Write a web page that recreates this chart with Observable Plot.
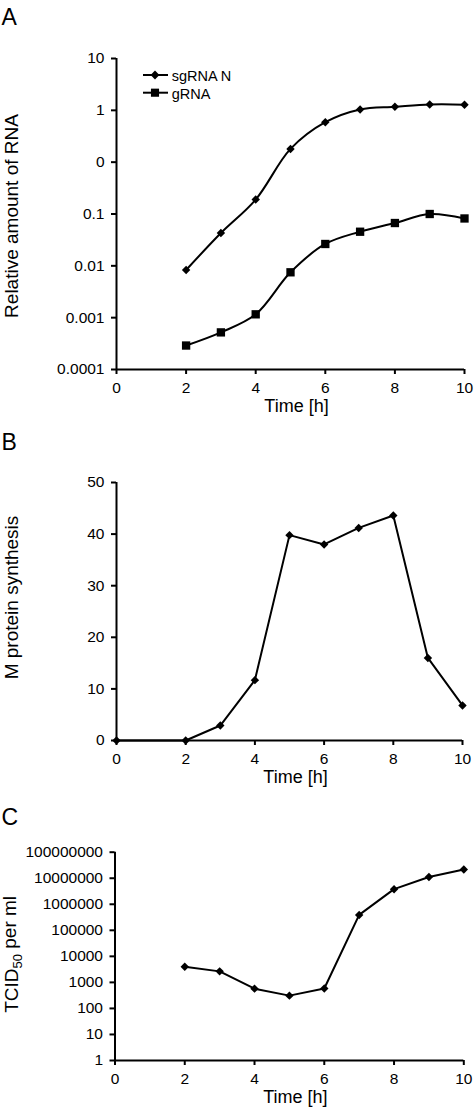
<!DOCTYPE html>
<html>
<head>
<meta charset="utf-8">
<script src="https://cdn.jsdelivr.net/npm/d3@7"></script>
<script src="https://cdn.jsdelivr.net/npm/@observablehq/plot@0.6"></script>
<style>
  html, body { margin: 0; padding: 0; background: white; overflow: hidden; }
  #wrap { width: 475px; font-family: "Liberation Sans", Arial, sans-serif; }
  .panel { position: relative; width: 475px; }
  .panel svg { display: block; max-width: none !important; }
  .panel svg [aria-label$="tick"] { stroke-width: 2px; }
  .panel svg [aria-label$="tick label"] { font-size: 15.5px; }
  #legend { position: absolute; left: 140px; top: 65px; }
</style>
</head>
<body>
<div id="wrap">
  <div class="panel" id="pA"></div>
  <div class="panel" id="pB"></div>
  <div class="panel" id="pC"></div>
</div>
<script>
// ---------- data ----------
const xTicks = [0, 2, 4, 6, 8, 10];

// Panel A (log axis; labels as printed on the original)
const hoursA = [2, 3, 4, 5, 6, 7, 8, 9, 10];
const sgRNA = [0.0083, 0.043, 0.19, 1.8, 5.9, 10.4, 11.7, 13.0, 12.8];
const gRNA = [0.00029, 0.00052, 0.00116, 0.0075, 0.0264, 0.0455, 0.067, 0.1, 0.082];
const ticksA = [0.0001, 0.001, 0.01, 0.1, 1, 10, 100];
const tickLabelsA = ["0.0001", "0.001", "0.01", "0.1", "0", "1", "10"];
const seriesA = ["sgRNA N", "gRNA"];

// Panel B
const hoursB = [0, 2, 3, 4, 5, 6, 7, 8, 9, 10];
const mProtein = [0, 0, 2.9, 11.7, 39.8, 38.0, 41.2, 43.6, 16.0, 6.8];
const ticksB = [0, 10, 20, 30, 40, 50];

// Panel C
const hoursC = [2, 3, 4, 5, 6, 7, 8, 9, 10];
const tcid = [4000, 2650, 575, 310, 580, 390000, 3800000, 11200000, 21500000];
const ticksC = [1, 10, 100, 1000, 10000, 100000, 1000000, 10000000, 100000000];

const titles = {
  x: "Time [h]",
  yA: "Relative amount of RNA",
  yB: "M protein synthesis",
  yC: "TCID50 per ml"
};
const letters = ["A", "B", "C"];

// ---------- helpers ----------
const FONT = "'Liberation Sans', Arial, sans-serif";
const baseStyle = {fontFamily: FONT, fontSize: "15.5px", color: "black", background: "white", overflow: "visible"};

function chrome(letter, marginLeft, marginTop, yTitle, yTitleDx, yTitleDy) {
  return [
    Plot.text([letter], {text: d => d, frameAnchor: "top-left", dx: -marginLeft + 1, dy: -marginTop + 8, textAnchor: "start", lineAnchor: "top", fontSize: 23, fill: "black"}),
    Plot.text([titles.x], {text: d => d, frameAnchor: "bottom", dx: 6, dy: 30, lineAnchor: "top", fontSize: 18, fill: "black"}),
    Plot.text([yTitle], {text: d => d, frameAnchor: "left", rotate: -90, dx: yTitleDx, dy: yTitleDy, lineAnchor: "middle", textAnchor: "middle", fontSize: 19, fill: "black"})
  ];
}

// ---------- Panel A ----------
const dataA = [];
hoursA.forEach((h, i) => dataA.push({t: h, v: sgRNA[i], s: seriesA[0]}));
hoursA.forEach((h, i) => dataA.push({t: h, v: gRNA[i], s: seriesA[1]}));

const plotA = Plot.plot({
  width: 475, height: 425,
  marginLeft: 116, marginRight: 11, marginTop: 58, marginBottom: 56,
  style: baseStyle,
  x: {domain: [0, 10], ticks: xTicks, tickSize: 5, tickPadding: 7, label: null},
  y: {type: "log", domain: [0.0001, 100], ticks: ticksA, tickFormat: d => tickLabelsA[ticksA.indexOf(d)], tickSize: 5, tickPadding: 7, label: null},
  marks: [
    Plot.ruleX([0], {stroke: "black", strokeWidth: 2}),
    Plot.ruleY([0.0001], {stroke: "black", strokeWidth: 2}),
    Plot.line(dataA, {x: "t", y: "v", z: "s", curve: "catmull-rom", stroke: "black", strokeWidth: 2}),
    Plot.dot(dataA.filter(d => d.s === seriesA[0]), {x: "t", y: "v", symbol: "diamond2", r: 3.8, fill: "black", stroke: "none"}),
    Plot.dot(dataA.filter(d => d.s === seriesA[1]), {x: "t", y: "v", symbol: "square", r: 4.7, fill: "black", stroke: "none"}),
    ...chrome(letters[0], 116, 58, titles.yA, -104.5, 2)
  ]
});
document.getElementById("pA").appendChild(plotA);

// legend (overlay)
const leg = d3.select("#pA").append("svg").attr("id", "legend").attr("width", 130).attr("height", 40)
  .style("font-family", FONT).style("font-size", "14.5px");
const legRows = leg.selectAll("g").data(seriesA).join("g")
  .attr("transform", (d, i) => `translate(0,${i === 0 ? 10 : 27.7})`);
legRows.append("line").attr("x1", 3).attr("x2", 28).attr("stroke", "black").attr("stroke-width", 2);
legRows.append("path")
  .attr("transform", "translate(15,0)")
  .attr("d", (d, i) => i === 0 ? d3.symbol(d3.symbolDiamond2, 50)() : d3.symbol(d3.symbolSquare, 66)())
  .attr("fill", "black");
legRows.append("text").attr("x", 31.7).attr("y", (d, i) => i === 0 ? 5.7 : 6.3).attr("fill", "black").text(d => d);

// ---------- Panel B ----------
const dataB = hoursB.map((h, i) => ({t: h, v: mProtein[i]}));
const plotB = Plot.plot({
  width: 475, height: 375,
  marginLeft: 116, marginRight: 13, marginTop: 57, marginBottom: 60,
  style: baseStyle,
  x: {domain: [0, 10], ticks: xTicks, tickSize: 5, tickPadding: 7, label: null},
  y: {domain: [0, 50], ticks: ticksB, tickSize: 5, tickPadding: 7, label: null},
  marks: [
    Plot.ruleX([0], {stroke: "black", strokeWidth: 2}),
    Plot.ruleY([0], {stroke: "black", strokeWidth: 2}),
    Plot.line(dataB, {x: "t", y: "v", stroke: "black", strokeWidth: 2}),
    Plot.dot(dataB, {x: "t", y: "v", symbol: "diamond2", r: 3.8, fill: "black", stroke: "none"}),
    ...chrome(letters[1], 116, 57, titles.yB, -105, -14)
  ]
});
document.getElementById("pB").appendChild(plotB);

// ---------- Panel C ----------
const dataC = hoursC.map((h, i) => ({t: h, v: tcid[i]}));
const plotC = Plot.plot({
  width: 475, height: 307,
  marginLeft: 114.5, marginRight: 11.7, marginTop: 51.7, marginBottom: 47,
  style: baseStyle,
  x: {domain: [0, 10], ticks: xTicks, tickSize: 5, tickPadding: 7, label: null},
  y: {type: "log", domain: [1, 100000000], ticks: ticksC, tickFormat: d => String(d), tickSize: 5, tickPadding: 7, label: null},
  marks: [
    Plot.ruleX([0], {stroke: "black", strokeWidth: 2}),
    Plot.ruleY([1], {stroke: "black", strokeWidth: 2}),
    Plot.line(dataC, {x: "t", y: "v", stroke: "black", strokeWidth: 2}),
    Plot.dot(dataC, {x: "t", y: "v", symbol: "diamond2", r: 3.8, fill: "black", stroke: "none"}),
    ...chrome(letters[2], 114.5, 51.7, titles.yC, -103, -2)
  ]
});
document.getElementById("pC").appendChild(plotC);

// subscript in TCID50
d3.select(plotC).selectAll("text").each(function() {
  if (this.textContent === titles.yC) {
    const t = d3.select(this);
    t.text(null);
    t.append("tspan").text("TCID");
    t.append("tspan").attr("font-size", 13).attr("dy", "0.3em").text("50");
    t.append("tspan").attr("dy", "-0.3em").text(" per ml");
  }
});
</script>
</body>
</html>
